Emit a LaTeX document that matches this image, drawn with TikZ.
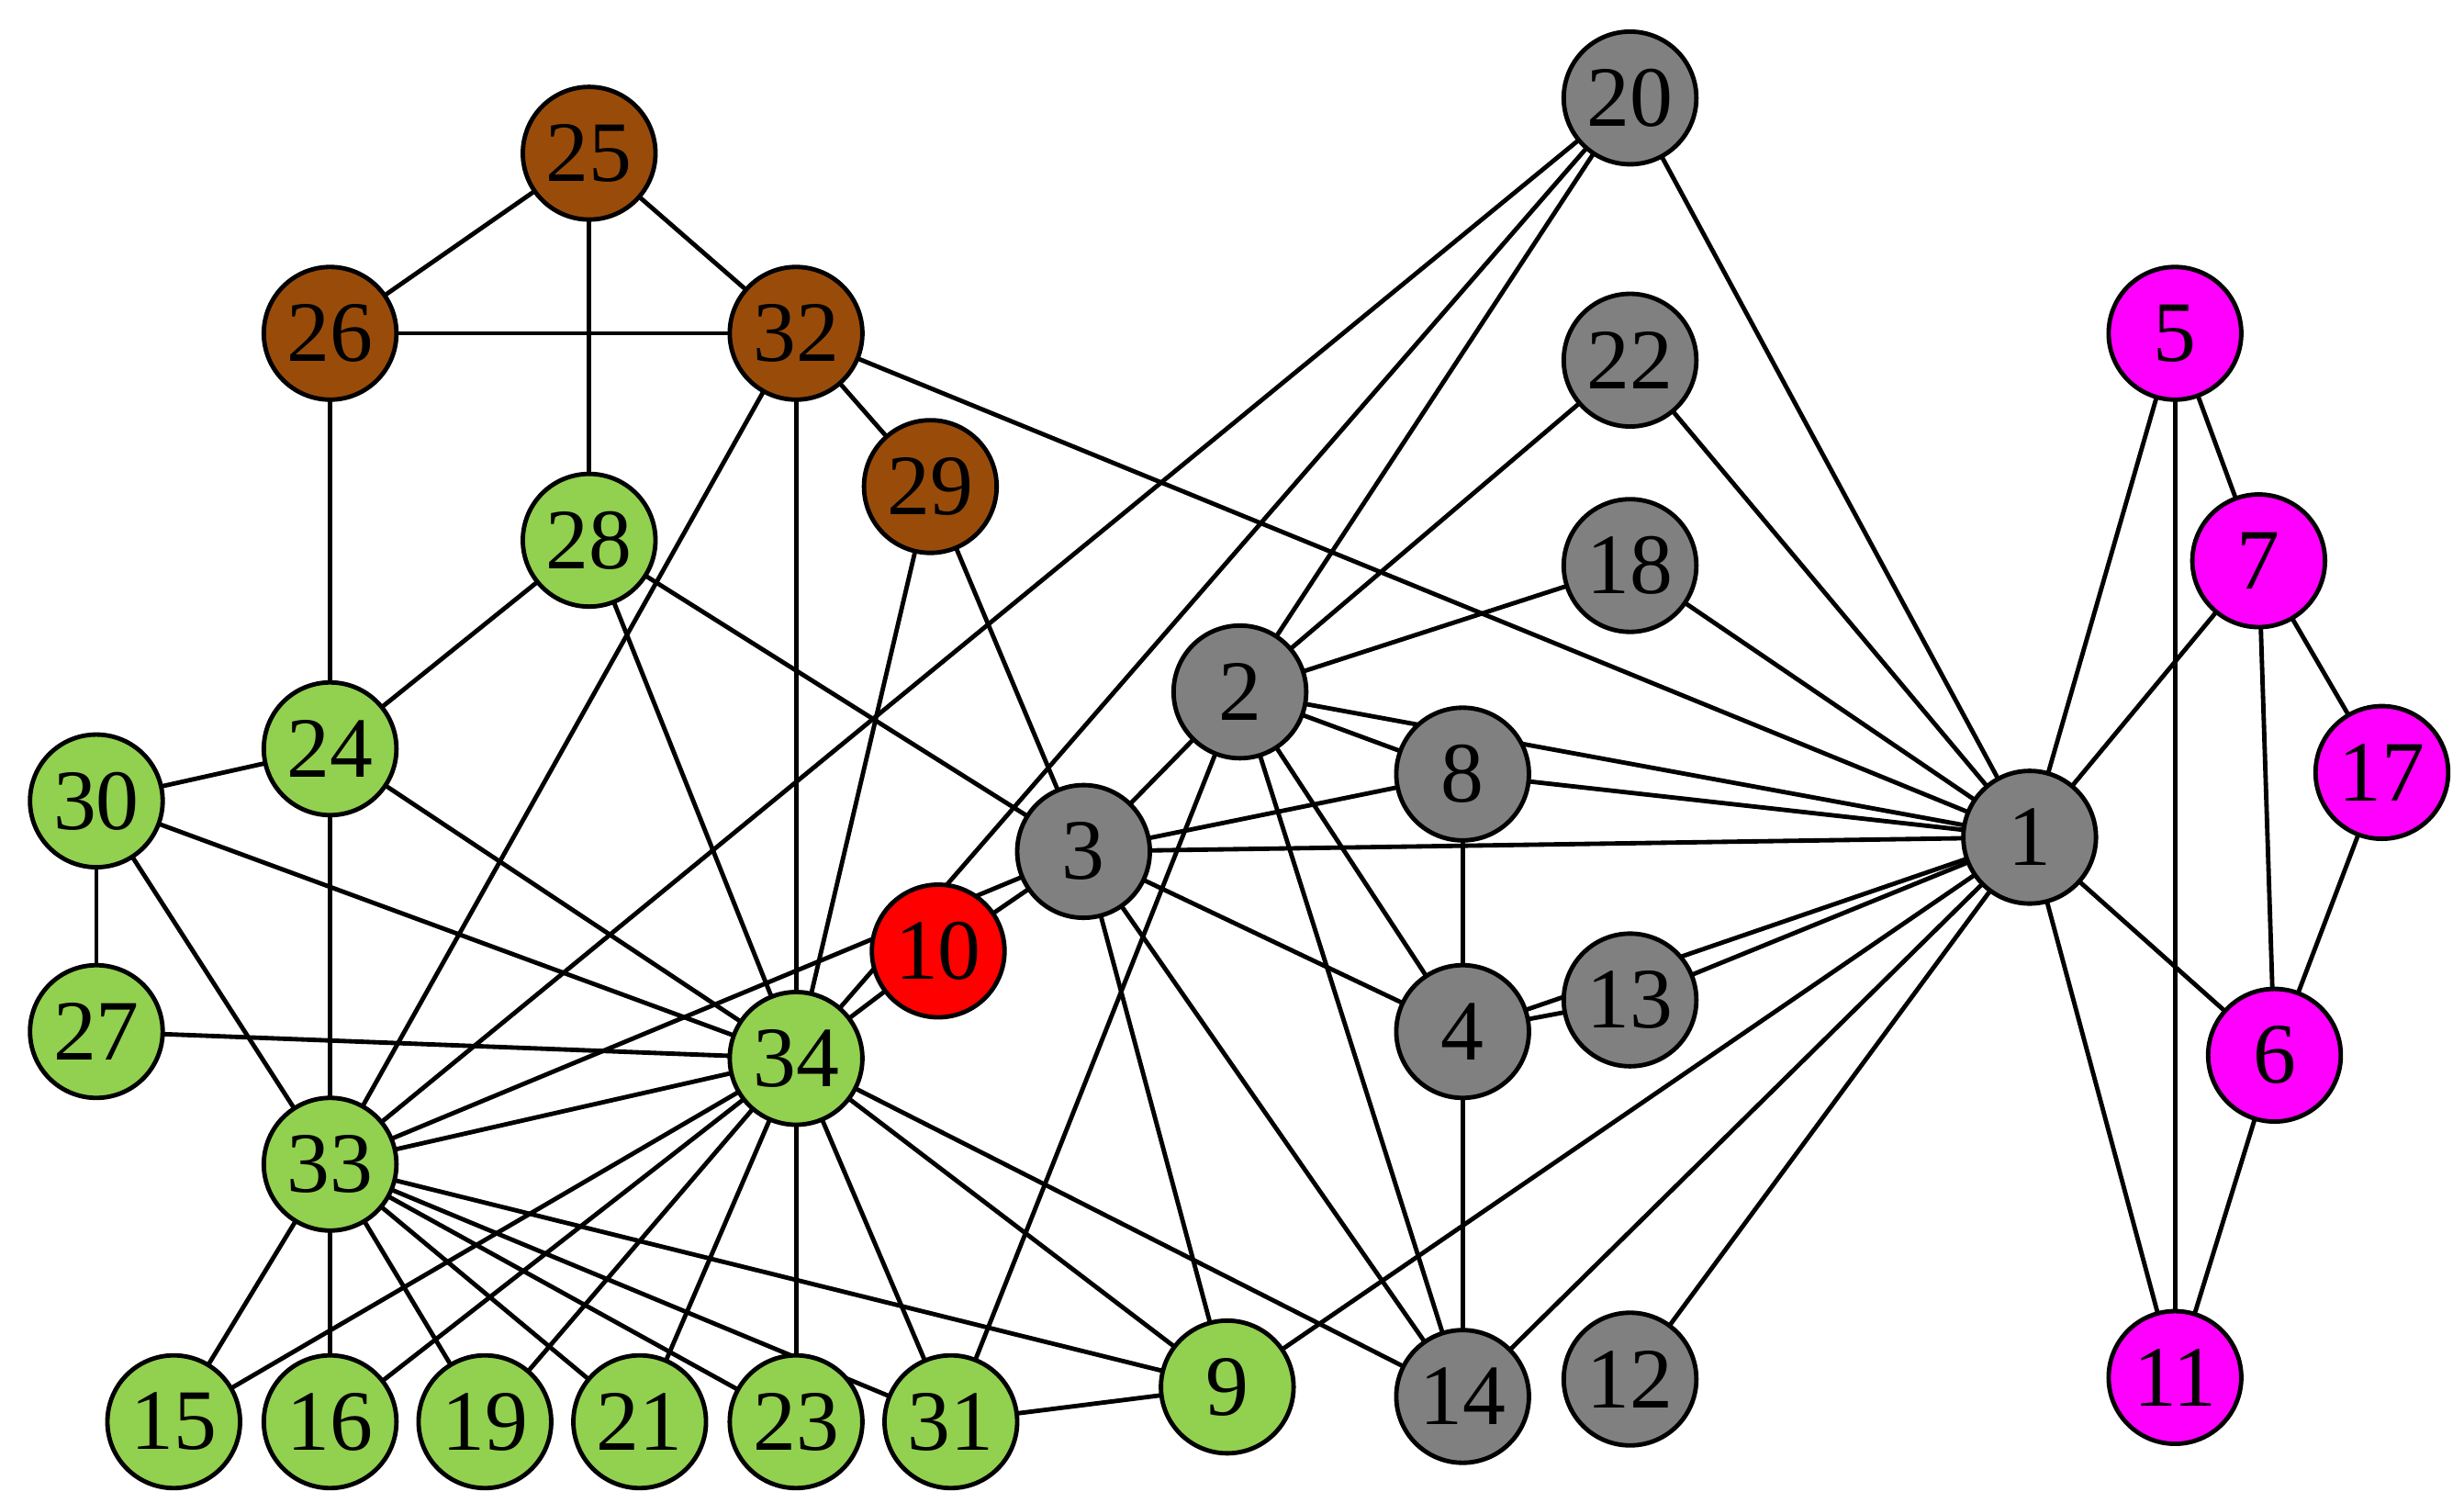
\documentclass[tikz,border=0pt]{standalone}
\usepackage{fontspec}
\setmainfont{Liberation Serif}
\pgfdeclarelayer{bg}
\pgfsetlayers{bg,main}
\begin{document}
\begin{tikzpicture}[x=0.1cm,y=-0.1cm,
  v/.style={circle,draw=black,line width=8pt,minimum size=8.4cm,inner sep=0pt,font=\fontsize{155}{155}\selectfont},
  G/.style={v,fill=grn}, B/.style={v,fill=brn}, Y/.style={v,fill=gry}, M/.style={v,fill=mag}, R/.style={v,fill=red},
  e/.style={line width=8pt}]
\definecolor{grn}{RGB}{146,208,80}
\definecolor{brn}{RGB}{153,76,10}
\definecolor{gry}{RGB}{128,128,128}
\definecolor{mag}{RGB}{255,0,255}
\definecolor{red}{RGB}{255,0,0}
\useasboundingbox (0,0) rectangle (1560,951);
\node[B] (25) at (373,97) {25};
\node[B] (26) at (209,211) {26};
\node[B] (32) at (504,211) {32};
\node[B] (29) at (589,308) {29};
\node[G] (28) at (373,342) {28};
\node[G] (24) at (209,474) {24};
\node[G] (30) at (61,507) {30};
\node[G] (27) at (61,653) {27};
\node[G] (33) at (209,737) {33};
\node[G] (34) at (504,670) {34};
\node[R] (10) at (594,602) {10};
\node[Y] (3) at (686,539) {3};
\node[Y] (2) at (785,438) {2};
\node[Y] (8) at (926,490) {8};
\node[Y] (4) at (926,653) {4};
\node[Y] (14) at (926,884) {14};
\node[Y] (12) at (1032,873) {12};
\node[Y] (13) at (1032,633) {13};
\node[Y] (18) at (1032,358) {18};
\node[Y] (22) at (1032,228) {22};
\node[Y] (20) at (1032,62) {20};
\node[Y] (1) at (1285,530) {1};
\node[M] (5) at (1377,211) {5};
\node[M] (7) at (1430,355) {7};
\node[M] (17) at (1508,489) {17};
\node[M] (6) at (1440,668) {6};
\node[M] (11) at (1377,872) {11};
\node[G] (15) at (110,900) {15};
\node[G] (16) at (209,900) {16};
\node[G] (19) at (307,900) {19};
\node[G] (21) at (405,900) {21};
\node[G] (23) at (504,900) {23};
\node[G] (31) at (602,900) {31};
\node[G] (9) at (777,878) {9};
\begin{pgfonlayer}{bg}
\foreach \a/\b in {1/2,1/3,1/4,1/5,1/6,1/7,1/8,1/9,1/11,1/12,1/13,1/14,1/18,1/20,1/22,1/32,
 2/3,2/4,2/8,2/14,2/18,2/20,2/22,2/31,3/4,3/8,3/9,3/10,3/14,3/28,3/29,3/33,4/8,4/13,4/14,
 5/7,5/11,6/7,6/11,6/17,7/17,9/31,9/33,9/34,10/34,14/34,15/33,15/34,16/33,16/34,19/33,19/34,
 20/34,20/33,21/33,21/34,23/33,23/34,24/26,24/28,24/30,24/33,24/34,25/26,25/28,25/32,26/32,
 27/30,27/34,28/34,29/32,29/34,30/33,30/34,31/33,31/34,32/33,32/34,33/34}
 \draw[e] (\a.center) -- (\b.center);
\end{pgfonlayer}
\end{tikzpicture}
\end{document}
